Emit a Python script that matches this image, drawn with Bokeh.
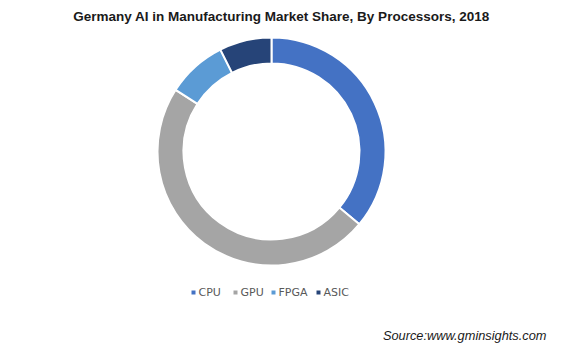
import math
from bokeh.plotting import figure
from bokeh.models import ColumnDataSource, Range1d
from bokeh.core.properties import value
from bokeh.embed import file_html
from bokeh.resources import INLINE

# ---- data ----
categories = ["CPU", "GPU", "FPGA", "ASIC"]
shares = [36.0, 48.1, 8.5, 7.4]
colors = ["#4472C4", "#A5A5A5", "#5B9BD5", "#264478"]
title_text = "Germany AI in Manufacturing Market Share, By Processors, 2018"
source_text = "Source:www.gminsights.com"

W, H = 561, 354
p = figure(width=W, height=H, output_backend="svg", toolbar_location=None,
           x_range=Range1d(0, W), y_range=Range1d(0, H), min_border=0)
p.axis.visible = False
p.grid.visible = False
p.outline_line_color = None
p.background_fill_color = "white"
p.border_fill_color = "white"

def Y(y):
    return H - y

# donut
total = sum(shares)
starts, ends = [], []
a = math.pi / 2
for s in shares:
    starts.append(a)
    a -= 2 * math.pi * s / total
    ends.append(a)
cx, cy = 271, Y(151)
src = ColumnDataSource(dict(start=starts, end=ends, color=colors, cat=categories))
p.annular_wedge(x=cx, y=cy, inner_radius=88, outer_radius=114,
                start_angle="start", end_angle="end", direction="clock",
                fill_color="color", line_color="white", line_width=2, source=src)

# title
p.text(x=[281], y=[Y(16)], text=[title_text], text_font=value("Liberation Sans"),
       text_font_style="bold", text_font_size="13.5px", text_color="#1a1a1a",
       text_align="center", text_baseline="middle")

# legend
sq_x = [193, 235, 273, 318]
lg = ColumnDataSource(dict(x=sq_x, tx=[v + 5 for v in sq_x], y=[Y(292)] * 4,
                           color=colors, cat=categories))
p.scatter(x="x", y="y", marker="square", size=4, fill_color="color",
          line_color=None, source=lg)
p.text(x="tx", y="y", text="cat", text_font=value("DejaVu Sans"),
       text_font_size="11px", text_color="#595959", text_align="left",
       text_baseline="middle", source=lg)

# source
p.text(x=[546], y=[Y(335)], text=[source_text], text_font=value("Liberation Sans"),
       text_font_style="italic", text_font_size="12.8px", text_color="#1a1a1a",
       text_align="right", text_baseline="middle")

open("out.html", "w").write(file_html(p, INLINE))
